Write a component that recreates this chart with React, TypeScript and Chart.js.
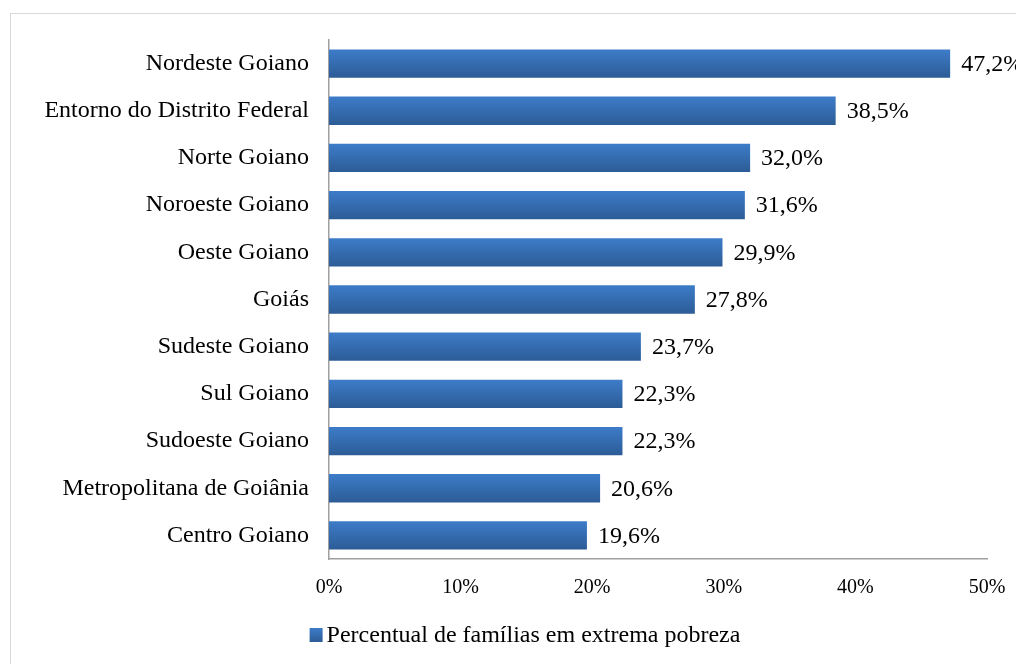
import React, { useEffect, useRef } from "react";
import { Chart, registerables } from "chart.js";

Chart.register(...registerables);

const categories = [
  "Nordeste Goiano",
  "Entorno do Distrito Federal",
  "Norte Goiano",
  "Noroeste Goiano",
  "Oeste Goiano",
  "Goiás",
  "Sudeste Goiano",
  "Sul Goiano",
  "Sudoeste Goiano",
  "Metropolitana de Goiânia",
  "Centro Goiano",
];
const values = [47.2, 38.5, 32.0, 31.6, 29.9, 27.8, 23.7, 22.3, 22.3, 20.6, 19.6];
const valueLabels = ["47,2%", "38,5%", "32,0%", "31,6%", "29,9%", "27,8%", "23,7%", "22,3%", "22,3%", "20,6%", "19,6%"];
const xTicks = [0, 10, 20, 30, 40, 50];
const seriesName = "Percentual de famílias em extrema pobreza";

const FONT = "'Liberation Serif', 'Times New Roman', serif";
const TOP_COLOR = "#3d7cc9";
const BOTTOM_COLOR = "#2c5c96";
const BAR_PCT = 0.6;

const barGradient = (ctx: any) => {
  const chart = ctx.chart;
  const y = chart.scales && chart.scales.y;
  const c = chart.ctx;
  if (!y || ctx.dataIndex === undefined) return TOP_COLOR;
  const center = y.getPixelForValue(ctx.dataIndex);
  const band = (y.bottom - y.top) / categories.length;
  const h = (band * BAR_PCT) / 2;
  if (!isFinite(center) || !isFinite(h) || h <= 0) return TOP_COLOR;
  const g = c.createLinearGradient(0, center - h, 0, center + h);
  g.addColorStop(0, TOP_COLOR);
  g.addColorStop(1, BOTTOM_COLOR);
  return g;
};

const dataLabelPlugin = {
  id: "dataLabels",
  afterDatasetsDraw(chart: any) {
    const meta = chart.getDatasetMeta(0);
    const c = chart.ctx;
    c.save();
    c.font = `24px ${FONT}`;
    c.fillStyle = "#000";
    c.textAlign = "left";
    c.textBaseline = "middle";
    meta.data.forEach((el: any, i: number) => {
      c.fillText(valueLabels[i], el.x + 11, el.y + 1);
    });
    c.restore();
  },
};

const legendPlugin = {
  id: "customLegend",
  afterDraw(chart: any) {
    const c = chart.ctx;
    const area = chart.chartArea;
    if (!area) return;
    c.save();
    c.font = `24px ${FONT}`;
    const tw = c.measureText(seriesName).width;
    const boxW = 13;
    const boxH = 14;
    const gap = 4;
    const total = boxW + gap + tw;
    const startX = chart.width / 2 + 17 - total / 2;
    const cy = area.bottom + 76;
    c.fillStyle = "#3569ad";
    if (isFinite(cy)) {
      const g = c.createLinearGradient(0, cy - boxH / 2, 0, cy + boxH / 2);
      g.addColorStop(0, TOP_COLOR);
      g.addColorStop(1, BOTTOM_COLOR);
      c.fillStyle = g;
    }
    c.fillRect(startX, cy - boxH / 2, boxW, boxH);
    c.fillStyle = "#000";
    c.textAlign = "left";
    c.textBaseline = "middle";
    c.fillText(seriesName, startX + boxW + gap, cy + 1);
    c.restore();
  },
};

export default function App() {
  const ref = useRef<HTMLCanvasElement>(null);
  useEffect(() => {
    if (!ref.current) return;
    const chart = new Chart(ref.current, {
      type: "bar",
      data: {
        labels: categories,
        datasets: [
          {
            label: seriesName,
            data: values,
            backgroundColor: barGradient,
            barPercentage: BAR_PCT,
            categoryPercentage: 1,
          },
        ],
      },
      options: {
        indexAxis: "y",
        responsive: false,
        animation: false,
        layout: { padding: { left: 0, right: 29, top: 40, bottom: 52 } },
        scales: {
          x: {
            min: 0,
            max: 50,
            afterBuildTicks: (scale: any) => {
              scale.ticks = xTicks.map((v) => ({ value: v }));
            },
            afterFit: (scale: any) => {
              scale.height = 53;
              scale.paddingRight = 0;
              scale.paddingLeft = 0;
            },
            grid: { display: false, drawTicks: false },
            border: { display: true, color: "#a0a0a0", width: 1.5 },
            ticks: {
              padding: 17,
              color: "#000",
              font: { family: FONT, size: 20 },
              callback: (v: any) => `${v}%`,
              maxRotation: 0,
            },
          },
          y: {
            afterFit: (scale: any) => {
              scale.width = 329;
            },
            grid: { display: false, drawTicks: false },
            border: { display: true, color: "#a0a0a0", width: 1.5 },
            ticks: {
              padding: 20,
              color: "#000",
              font: { family: FONT, size: 24 },
              autoSkip: false,
            },
          },
        },
        plugins: {
          legend: { display: false },
          tooltip: { enabled: false },
        },
      },
      plugins: [dataLabelPlugin, legendPlugin],
    });
    return () => chart.destroy();
  }, []);

  return (
    <div
      style={{
        position: "fixed",
        left: 0,
        top: 0,
        width: 1016,
        height: 664,
        overflow: "hidden",
        background: "#fff",
      }}
    >
      <div
        style={{
          position: "absolute",
          left: 10,
          top: 13,
          width: 1100,
          height: 700,
          border: "1px solid #d9d9d9",
        }}
      />
      <canvas
        ref={ref}
        width={1016}
        height={664}
        style={{ position: "absolute", left: 0, top: 0, display: "block" }}
      />
    </div>
  );
}
